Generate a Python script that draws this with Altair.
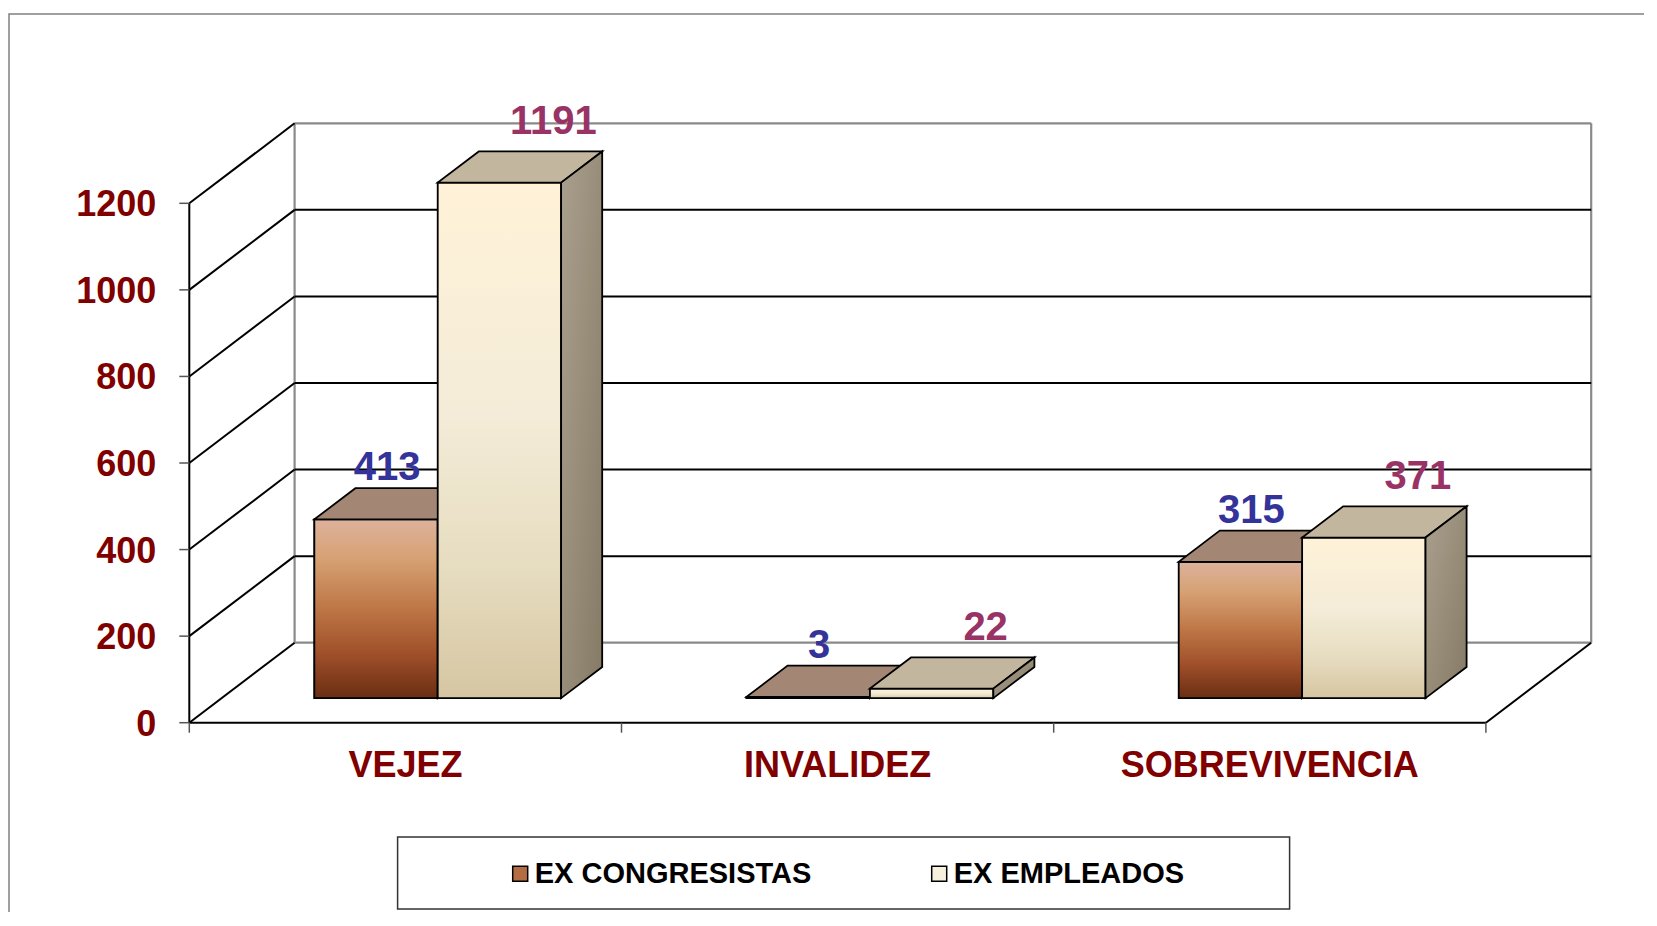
import altair as alt
import pandas as pd

# ---------------- data ----------------
categories = ["VEJEZ", "INVALIDEZ", "SOBREVIVENCIA"]
series_names = ["EX CONGRESISTAS", "EX EMPLEADOS"]
ex_congresistas = [413, 3, 315]
ex_empleados = [1191, 22, 371]
y_ticks = [0, 200, 400, 600, 800, 1000, 1200]

# ---------------- layout / style ----------------
FONT = "Liberation Sans"
W, H = 1636, 904
CAT_PX = 432.2          # px per category on the front plane
K = 0.43283             # px per value unit
X0_PX, Y0_PX = 181.3, 714.7   # front origin inside plot area
DXU = 105.3 / CAT_PX    # depth offset in category units
DYV = 80.0 / K          # depth offset in value units
D0, D1 = 0.307, 0.697   # bar depth range (fraction of total depth)
BAR_W = 123.4 / CAT_PX
Y_TOP = y_ticks[-1]

xmin = -X0_PX / CAT_PX
xmax = xmin + W / CAT_PX
ymax = Y0_PX / K
ymin = ymax - H / K

xs = alt.Scale(domain=[xmin, xmax], nice=False, zero=False)
ys = alt.Scale(domain=[ymin, ymax], nice=False, zero=False)


def X(f):
    return alt.X(f, type="quantitative", scale=xs, axis=None)


def Y(f):
    return alt.Y(f, type="quantitative", scale=ys, axis=None)


ncat = len(categories)

# ---------------- walls / floor lines ----------------
black_lines, gray_lines = [], []
for v in y_ticks:
    seg = dict(x=DXU, x2=ncat + DXU, y=v + DYV, y2=v + DYV)
    (gray_lines if v in (0, Y_TOP) else black_lines).append(seg)
    black_lines.append(dict(x=0, x2=DXU, y=v, y2=v + DYV))
for xb in (DXU, ncat + DXU):
    gray_lines.append(dict(x=xb, x2=xb, y=DYV, y2=Y_TOP + DYV))
black_lines.append(dict(x=0, x2=0, y=0, y2=Y_TOP))
black_lines.append(dict(x=0, x2=ncat, y=0, y2=0))
black_lines.append(dict(x=ncat, x2=ncat + DXU, y=0, y2=DYV))

black_df = pd.DataFrame(black_lines)
gray_df = pd.DataFrame(gray_lines)

ytick_df = pd.DataFrame({"x": [0] * len(y_ticks), "v": y_ticks, "label": [str(v) for v in y_ticks]})
xtick_df = pd.DataFrame({"x": list(range(ncat + 1)), "y": [0] * (ncat + 1)})
cat_df = pd.DataFrame({"x": [i + 0.5 for i in range(ncat)], "y": [0] * ncat, "label": categories})

# ---------------- bars (pseudo 3D) ----------------
fronts, tops, sides = [], [], []
ddx = (D1 - D0) * DXU
ddy = (D1 - D0) * DYV
for j, (sname, vals) in enumerate(zip(series_names, [ex_congresistas, ex_empleados])):
    for i, v in enumerate(vals):
        c = i + 0.5 + D0 * DXU
        xl = c + (j - 1) * BAR_W
        xr = xl + BAR_W
        yb = D0 * DYV
        yt = v + yb
        bid = f"{j}-{i}"
        fronts.append(dict(series=sname, s=j, xl=xl, xr=xr, yb=yb, yt=yt,
                           xc=(xl + xr) / 2, label=str(v)))
        for px, lo, hi in [(xl, yt, yt), (xl + ddx, yt, yt + ddy),
                           (xr, yt, yt + ddy), (xr + ddx, yt + ddy, yt + ddy)]:
            tops.append(dict(bar=bid, s=j, x=px, lo=lo, hi=hi))
        for px, lo, hi in [(xr, yb, yt), (xr + ddx, yb + ddy, yt + ddy)]:
            sides.append(dict(bar=bid, s=j, x=px, lo=lo, hi=hi))

front_df = pd.DataFrame(fronts)
top_df = pd.DataFrame(tops)
side_df = pd.DataFrame(sides)


def grad(stops, x2=0, y2=1):
    return alt.LinearGradient(
        gradient="linear",
        stops=[alt.GradientStop(color=c, offset=o) for o, c in stops],
        x1=0, y1=0, x2=x2, y2=y2,
    )


front_fill = [
    grad([(0, "#DDB29D"), (0.22, "#D6A173"), (0.5, "#BE7646"), (0.75, "#A0502A"), (1, "#6A2E13")]),
    grad([(0, "#FFF2D8"), (0.45, "#F4ECD8"), (0.75, "#E6DCC0"), (1, "#D6C6A2")]),
]
top_fill = ["#A38774", "#C3B69F"]
side_fill = [
    grad([(0, "#9A6A50"), (1, "#6B3A22")], x2=1, y2=1),
    grad([(0, "#AAA08E"), (1, "#857A64")], x2=1, y2=1),
]
label_color = ["#333399", "#993366"]
label_off = [(11, -51), (54, -61)]

layers = []

# outer frame
one = pd.DataFrame({"a": [0]})
layers.append(
    alt.Chart(one).mark_rect(fill="white", stroke="#808080", strokeWidth=1.5).encode(
        x=alt.value(1), x2=alt.value(W + 30), y=alt.value(6), y2=alt.value(H + 30)
    )
)

layers.append(
    alt.Chart(gray_df).mark_rule(color="#8a8a8a", strokeWidth=2.2).encode(
        x=X("x"), x2="x2", y=Y("y"), y2="y2"
    )
)
layers.append(
    alt.Chart(black_df).mark_rule(color="#000000", strokeWidth=2).encode(
        x=X("x"), x2="x2", y=Y("y"), y2="y2"
    )
)
# y ticks
layers.append(
    alt.Chart(ytick_df).mark_rule(color="#555555", strokeWidth=1.5, x2Offset=-10).encode(
        x=X("x"), x2="x", y=Y("v")
    )
)
# x ticks
layers.append(
    alt.Chart(xtick_df).mark_rule(color="#555555", strokeWidth=1.5, y2Offset=10).encode(
        x=X("x"), y=Y("y"), y2="y"
    )
)
# y labels
layers.append(
    alt.Chart(ytick_df).mark_text(
        align="right", baseline="middle", dx=-33, dy=2, font=FONT, fontSize=36,
        fontWeight="bold", color="#800000"
    ).encode(x=X("x"), y=Y("v"), text="label:N")
)
# category labels
layers.append(
    alt.Chart(cat_df).mark_text(
        align="center", baseline="middle", dy=43, font=FONT, fontSize=36,
        fontWeight="bold", color="#800000"
    ).encode(x=X("x"), y=Y("y"), text="label:N")
)

# solid fronts that carry the legend (hidden under gradient fronts)
layers.append(
    alt.Chart(front_df).mark_rect(stroke="black", strokeWidth=1.5).encode(
        x=X("xl"), x2="xr", y=Y("yb"), y2="yt",
        color=alt.Color(
            "series:N",
            scale=alt.Scale(domain=series_names, range=["#B46C42", "#F7F0DC"]),
            legend=alt.Legend(
                title=None, orient="none", legendX=497.7, legendY=851,
                direction="horizontal", symbolType="square", symbolSize=225,
                symbolStrokeColor="black", symbolStrokeWidth=1.5,
                labelFont=FONT, labelFontSize=29, labelFontWeight="bold",
                labelColor="black", labelOffset=0, columnPadding=113,
                padding=0, labelLimit=0,
            ),
        ),
    )
)

for j in range(len(series_names)):
    fd = front_df[front_df.s == j]
    td = top_df[top_df.s == j]
    sd = side_df[side_df.s == j]
    layers.append(
        alt.Chart(fd).mark_rect(fill=front_fill[j], stroke="black", strokeWidth=1.8).encode(
            x=X("xl"), x2="xr", y=Y("yb"), y2="yt"
        )
    )
    layers.append(
        alt.Chart(td).mark_area(fill=top_fill[j], stroke="black", strokeWidth=1.8,
                                orient="vertical", interpolate="linear").encode(
            x=X("x"), y=Y("lo"), y2="hi", detail="bar:N"
        )
    )
    layers.append(
        alt.Chart(sd).mark_area(fill=side_fill[j], stroke="black", strokeWidth=1.8,
                                orient="vertical", interpolate="linear").encode(
            x=X("x"), y=Y("lo"), y2="hi", detail="bar:N"
        )
    )

for j in range(len(series_names)):
    fd = front_df[front_df.s == j]
    layers.append(
        alt.Chart(fd).mark_text(
            align="center", baseline="middle", dx=label_off[j][0], dy=label_off[j][1],
            font=FONT, fontSize=40, fontWeight="bold", color=label_color[j]
        ).encode(x=X("xc"), y=Y("yt"), text="label:N")
    )

# legend box
layers.append(
    alt.Chart(one).mark_rect(fill="white", stroke="#333333", strokeWidth=1.5).encode(
        x=alt.value(389.6), x2=alt.value(1281.6), y=alt.value(829), y2=alt.value(901)
    )
)

chart = alt.layer(*layers).properties(
    width=W, height=H, padding=0,
    autosize=alt.AutoSizeParams(type="none"),
    background="white",
).configure_view(stroke="transparent")

chart.save("out.html", embed_options={"renderer": "svg", "actions": False})
